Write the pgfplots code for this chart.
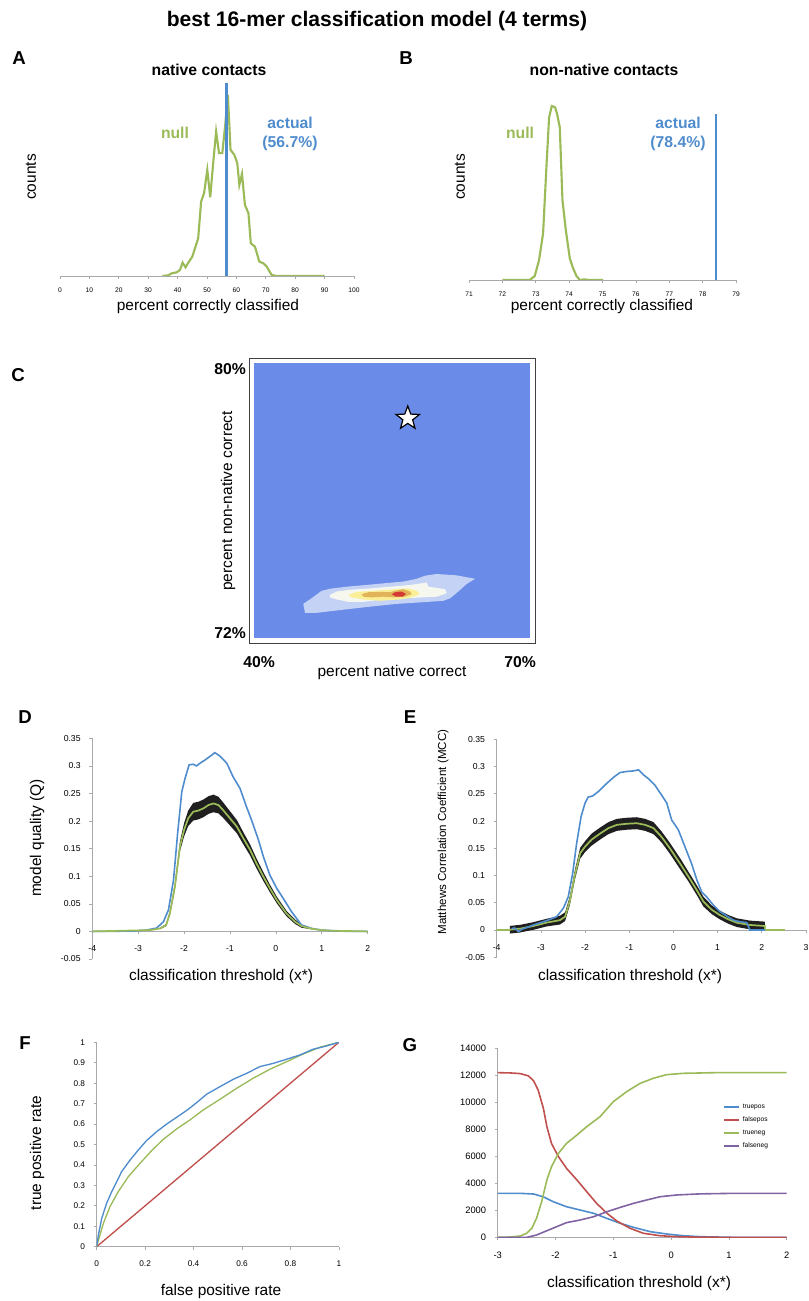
\documentclass[border=0pt]{standalone}
\usepackage{fontspec}
\setmainfont{Liberation Sans}
\usepackage{pgfplots}
\pgfplotsset{compat=1.18}

\definecolor{xblue}{RGB}{79,140,205}
\definecolor{xgreen}{RGB}{155,187,89}
\definecolor{xred}{RGB}{192,80,77}
\definecolor{xpurple}{RGB}{128,100,162}
\definecolor{cbg}{RGB}{106,140,232}
\definecolor{cl1}{RGB}{196,210,245}
\definecolor{cl2}{RGB}{246,248,240}
\definecolor{cl3}{RGB}{250,238,150}
\definecolor{cl4}{RGB}{226,180,90}
\definecolor{cl5}{RGB}{212,58,52}
\definecolor{axgray}{RGB}{170,170,170}

% five-pointed star mark for panel C
\pgfdeclareplotmark{fstar}{%
  \pgfpathmoveto{\pgfpointpolar{90}{\pgfplotmarksize}}%
  \pgfpathlineto{\pgfpointpolar{126}{0.42\pgfplotmarksize}}%
  \pgfpathlineto{\pgfpointpolar{162}{\pgfplotmarksize}}%
  \pgfpathlineto{\pgfpointpolar{198}{0.42\pgfplotmarksize}}%
  \pgfpathlineto{\pgfpointpolar{234}{\pgfplotmarksize}}%
  \pgfpathlineto{\pgfpointpolar{270}{0.42\pgfplotmarksize}}%
  \pgfpathlineto{\pgfpointpolar{306}{\pgfplotmarksize}}%
  \pgfpathlineto{\pgfpointpolar{342}{0.42\pgfplotmarksize}}%
  \pgfpathlineto{\pgfpointpolar{18}{\pgfplotmarksize}}%
  \pgfpathlineto{\pgfpointpolar{54}{0.42\pgfplotmarksize}}%
  \pgfpathclose
  \pgfusepathqfillstroke}

\pgfplotsset{
  base/.style={scale only axis, anchor=south west,
    axis line style={axgray, line width=0.6pt},
    tick style={axgray, line width=0.5pt},
    major tick length=2.2pt, tick align=outside,
    /pgf/number format/assume math mode=true,
    /pgf/number format/fixed,
    /pgf/number format/1000 sep={},
    scaled ticks=false,
    ticklabel style={font=\fontsize{6.5}{7}\selectfont, text=black}},
}

\begin{document}
\begin{tikzpicture}
\path[use as bounding box] (0,0) rectangle (606.75pt,-975.75pt);

% ---------------- A ----------------
\begin{axis}[base, at={(45pt,-207pt)}, width=220.5pt, height=150.2pt,
  xmin=0, xmax=100, ymin=0, ymax=600,
  axis x line*=bottom, axis y line=none,
  xtick={0,10,20,30,40,50,60,70,80,90,100},
  ticklabel style={font=\fontsize{5}{6}\selectfont},
  xticklabel style={yshift=-3pt}]
\addplot[xgreen, line width=1.6pt] coordinates {
 (34.8,0)(36.8,2)(38,8)(39.7,11)(40.8,18)(41.7,40)(42.7,26)(43.5,38)(45,58)
 (47,113)(48,223)(49,248)(50.1,318)(51.1,236)(52.2,348)(53.1,433)(54.1,368)
 (55.2,368)(56.2,453)(57.1,543)(58,378)(59.3,363)(60.3,338)(61,273)(61.9,306)
 (62.9,213)(64.1,188)(64.9,98)(66.3,88)(67.8,43)(69.2,38)(70.3,28)(72,3)
 (73.7,0)(90,0)};
\addplot[xblue, line width=1.9pt] coordinates {(56.7,0)(56.7,578)};
\end{axis}

% ---------------- B ----------------
\begin{axis}[base, at={(351.75pt,-210pt)}, width=200.25pt, height=150pt,
  xmin=71, xmax=79, ymin=0, ymax=600,
  axis x line*=bottom, axis y line=none,
  xtick={71,...,79},
  ticklabel style={font=\fontsize{5}{6}\selectfont},
  xticklabel style={yshift=-3pt}]
\addplot[xgreen, line width=1.6pt] coordinates {
 (72,0)(72.82,0)(72.97,12)(73.1,60)(73.22,140)(73.32,340)(73.4,488)(73.48,522)
 (73.58,518)(73.64,498)(73.72,458)(73.8,240)(73.9,150)(74.02,65)(74.12,35)
 (74.22,12)(74.32,0)(74.47,2)(74.57,0)(75.02,0)};
\addplot[xblue, line width=1.9pt] coordinates {(78.4,0)(78.4,498)};
\end{axis}

% ---------------- C ----------------
\begin{axis}[base, at={(190.7pt,-478.7pt)}, width=206.8pt, height=206.25pt,
  xmin=40, xmax=70, ymin=72, ymax=80,
  axis background/.style={fill=cbg},
  axis line style={draw=none}, xtick=\empty, ytick=\empty]
\addplot[fill=cl1, draw=none] coordinates {
 (45.33,73.0)(46.06,73.13)(47.33,73.38)(48.24,73.44)(50.05,73.50)(52.95,73.57)
 (56.21,73.65)(57.67,73.73)(58.57,73.82)(59.85,73.87)(62.02,73.83)(64.02,73.73)
 (63.11,73.58)(62.2,73.36)(61.29,73.16)(60.57,73.09)(58.39,73.05)(55.5,73.0)
 (52.59,72.92)(49.33,72.82)(46.79,72.74)(45.52,72.74)} -- cycle;
\addplot[fill=cl2, draw=none] coordinates {
 (48.24,73.26)(48.97,73.36)(50.41,73.41)(52.59,73.45)(54.76,73.50)(56.94,73.55)
 (58.76,73.62)(58.93,73.50)(60.75,73.43)(60.94,73.31)(59.85,73.21)(58.39,73.19)
 (56.21,73.16)(54.04,73.13)(51.86,73.06)(50.23,73.06)(48.97,73.13)(48.24,73.19)} -- cycle;
\addplot[fill=cl3, draw=none] coordinates {
 (50.23,73.26)(51.14,73.35)(52.95,73.38)(54.41,73.41)(55.5,73.43)(56.76,73.45)
 (57.67,73.38)(58.03,73.29)(57.13,73.19)(55.85,73.13)(53.67,73.09)(51.86,73.13)
 (50.6,73.19)} -- cycle;
\addplot[fill=cl4, draw=none] coordinates {
 (51.69,73.28)(52.4,73.34)(53.68,73.35)(54.77,73.34)(55.31,73.38)(56.21,73.43)
 (56.94,73.36)(57.13,73.28)(56.4,73.21)(55.13,73.19)(54.04,73.21)(52.77,73.19)
 (51.86,73.21)} -- cycle;
\addplot[fill=cl5, draw=none] coordinates {
 (54.95,73.28)(55.31,73.34)(56.04,73.36)(56.51,73.29)(56.15,73.21)(55.42,73.21)} -- cycle;
\addplot[only marks, mark=fstar, mark size=9.2pt,
  mark options={fill=white, draw=black, line width=0.9pt}] coordinates {(56.7,78.4)};
\end{axis}

% ---------------- D ----------------
\begin{axis}[base, at={(69.2pt,-719.25pt)}, width=206.55pt, height=165.5pt,
  xmin=-4, xmax=2, ymin=-0.05, ymax=0.35,
  axis x line*=middle, axis y line*=left,
  hide obscured x ticks=false, hide obscured y ticks=false,
  xtick={-4,-3,-2,-1,0,1,2},
  ytick={-0.05,0,0.05,0.1,0.15,0.2,0.25,0.3,0.35},
  xticklabel style={yshift=-5pt}, yticklabel style={xshift=-3pt}]
% spread of the null models (upper edge, then lower edge back)
\addplot[fill=black!88, draw=none] coordinates {
 (-2.52,0.0064)(-2.39,0.0135)(-2.31,0.0366)(-2.2,0.087)(-2.09,0.163)(-2.0,0.196)
 (-1.91,0.219)(-1.8,0.233)(-1.69,0.235)(-1.58,0.239)(-1.47,0.245)(-1.36,0.248)
 (-1.25,0.244)(-1.15,0.234)(-1.0,0.218)(-0.85,0.202)(-0.71,0.180)(-0.56,0.1575)
 (-0.42,0.132)(-0.27,0.107)(-0.13,0.085)(0.02,0.063)(0.23,0.0376)(0.42,0.0215)
 (0.56,0.0127)(0.78,0.0058)
 (0.78,0.0038)(0.56,0.0067)(0.42,0.0135)(0.23,0.0276)(0.02,0.051)(-0.13,0.071)
 (-0.27,0.091)(-0.42,0.114)(-0.56,0.1375)(-0.71,0.158)(-0.85,0.178)(-1.0,0.192)
 (-1.15,0.206)(-1.25,0.214)(-1.36,0.216)(-1.47,0.213)(-1.58,0.207)(-1.69,0.203)
 (-1.8,0.201)(-1.91,0.191)(-2.0,0.172)(-2.09,0.145)(-2.2,0.075)(-2.31,0.0286)
 (-2.39,0.0095)(-2.52,0.0044)} -- cycle;
\addplot[xblue, line width=1.2pt] coordinates {
 (-4,0)(-3.11,0.0006)(-2.82,0.0024)(-2.6,0.006)(-2.45,0.0175)(-2.34,0.039)
 (-2.23,0.093)(-2.14,0.178)(-2.05,0.253)(-1.98,0.277)(-1.89,0.302)(-1.8,0.303)
 (-1.73,0.300)(-1.65,0.305)(-1.54,0.311)(-1.44,0.317)(-1.33,0.324)(-1.22,0.318)
 (-1.07,0.305)(-0.93,0.280)(-0.78,0.259)(-0.64,0.226)(-0.53,0.202)(-0.38,0.166)
 (-0.27,0.135)(-0.13,0.102)(0.02,0.078)(0.16,0.060)(0.34,0.036)(0.56,0.0115)
 (0.78,0.0054)(1.0,0.0024)(1.25,0.0012)(1.61,0)(2,0)};
\addplot[xgreen, line width=1.3pt] coordinates {
 (-4,0)(-2.74,0.0024)(-2.52,0.0054)(-2.39,0.0115)(-2.31,0.0326)(-2.2,0.081)
 (-2.09,0.154)(-2.0,0.184)(-1.91,0.205)(-1.8,0.217)(-1.69,0.219)(-1.58,0.223)
 (-1.47,0.229)(-1.36,0.232)(-1.25,0.229)(-1.15,0.220)(-1.0,0.205)(-0.85,0.190)
 (-0.71,0.169)(-0.56,0.1475)(-0.42,0.123)(-0.27,0.099)(-0.13,0.078)(0.02,0.057)
 (0.23,0.0326)(0.42,0.0175)(0.56,0.0097)(0.78,0.0048)(1.0,0.0024)(1.25,0.0012)(2,0)};
\end{axis}

% ---------------- E ----------------
\begin{axis}[base, at={(372.5pt,-717.9pt)}, width=231.98pt, height=163.4pt,
  xmin=-4, xmax=3, ymin=-0.05, ymax=0.35,
  axis x line*=middle, axis y line*=left,
  hide obscured x ticks=false, hide obscured y ticks=false,
  xtick={-4,-3,-2,-1,0,1,2,3},
  ytick={-0.05,0,0.05,0.1,0.15,0.2,0.25,0.3,0.35},
  xticklabel style={yshift=-5pt}, yticklabel style={xshift=-3pt}]
\addplot[fill=black!88, draw=none] coordinates {
 (-3.7,0.0075)(-3.47,0.0094)(-3.17,0.0143)(-2.87,0.0205)(-2.57,0.026)(-2.45,0.0325)
 (-2.34,0.063)(-2.23,0.110)(-2.11,0.151)(-2.0,0.163)(-1.85,0.177)(-1.66,0.188)
 (-1.47,0.198)(-1.28,0.204)(-1.06,0.206)(-0.83,0.207)(-0.64,0.204)(-0.45,0.198)
 (-0.27,0.181)(-0.08,0.160)(0.15,0.132)(0.34,0.107)(0.53,0.082)(0.68,0.061)
 (0.87,0.045)(1.05,0.0355)(1.24,0.0276)(1.43,0.0215)(1.73,0.0172)(2.07,0.0153)
 (2.07,-0.0007)(1.73,0.0012)(1.43,0.0055)(1.24,0.0116)(1.05,0.0195)(0.87,0.029)
 (0.68,0.043)(0.53,0.064)(0.34,0.089)(0.15,0.112)(-0.08,0.140)(-0.27,0.161)
 (-0.45,0.176)(-0.64,0.182)(-0.83,0.185)(-1.06,0.184)(-1.28,0.182)(-1.47,0.176)
 (-1.66,0.166)(-1.85,0.155)(-2.0,0.143)(-2.11,0.131)(-2.23,0.092)(-2.34,0.047)
 (-2.45,0.0165)(-2.57,0.010)(-2.87,0.0065)(-3.17,0.0003)(-3.47,-0.0046)(-3.7,-0.0065)} -- cycle;
\addplot[xgreen, line width=1.3pt] coordinates {
 (-4,0)(-3.71,0)(-3.7,0.0005)(-3.47,0.0024)(-3.17,0.0073)(-2.87,0.0135)(-2.57,0.018)
 (-2.45,0.0245)(-2.34,0.055)(-2.23,0.101)(-2.11,0.141)(-2.0,0.153)(-1.85,0.166)
 (-1.66,0.177)(-1.47,0.187)(-1.28,0.193)(-1.06,0.195)(-0.83,0.196)(-0.64,0.193)
 (-0.45,0.187)(-0.27,0.171)(-0.08,0.150)(0.15,0.122)(0.34,0.098)(0.53,0.073)
 (0.68,0.052)(0.87,0.037)(1.05,0.0275)(1.24,0.0196)(1.43,0.0135)(1.73,0.0092)
 (2.07,0.0073)(2.075,0)(2.52,0)};
\addplot[xblue, line width=1.2pt] coordinates {
 (-3.66,0.0024)(-3.59,0.0037)(-3.51,-0.003)(-3.43,0.0012)(-3.17,0.0092)
 (-2.87,0.017)(-2.64,0.0245)(-2.49,0.040)(-2.38,0.061)(-2.28,0.104)(-2.19,0.159)
 (-2.09,0.208)(-2.0,0.233)(-1.93,0.244)(-1.83,0.246)(-1.70,0.254)(-1.55,0.266)
 (-1.36,0.280)(-1.21,0.289)(-1.06,0.291)(-0.91,0.292)(-0.79,0.294)(-0.68,0.285)
 (-0.57,0.278)(-0.42,0.266)(-0.27,0.248)(-0.15,0.233)(-0.04,0.202)(0.11,0.184)
 (0.26,0.153)(0.41,0.122)(0.53,0.092)(0.64,0.070)(0.75,0.061)(0.90,0.046)
 (1.05,0.034)(1.2,0.026)(1.36,0.018)(1.51,0.015)(1.66,0.0135)(1.73,0)(2.07,0)};
\end{axis}

% ---------------- F ----------------
\begin{axis}[base, at={(72.5pt,-935pt)}, width=181.7pt, height=153.3pt,
  xmin=0, xmax=1, ymin=0, ymax=1,
  axis x line*=bottom, axis y line*=left,
  xtick={0,0.2,0.4,0.6,0.8,1},
  ytick={0,0.1,0.2,0.3,0.4,0.5,0.6,0.7,0.8,0.9,1},
  ticklabel style={font=\fontsize{6.2}{7}\selectfont},
  xticklabel style={yshift=-5pt}, yticklabel style={xshift=-3pt}]
\addplot[xred, line width=1pt] coordinates {(0,0)(1,1)};
\addplot[xgreen, line width=1pt] coordinates {
 (0,0)(0.0096,0.041)(0.0275,0.114)(0.055,0.196)(0.089,0.269)(0.131,0.343)
 (0.179,0.408)(0.227,0.470)(0.275,0.525)(0.330,0.576)(0.385,0.620)(0.440,0.669)
 (0.509,0.721)(0.578,0.775)(0.646,0.824)(0.715,0.868)(0.784,0.905)(0.853,0.943)
 (0.922,0.976)(1,1)};
\addplot[xblue, line width=1pt] coordinates {
 (0,0)(0.007,0.057)(0.021,0.139)(0.041,0.212)(0.062,0.269)(0.083,0.318)
 (0.103,0.367)(0.138,0.424)(0.172,0.473)(0.206,0.519)(0.248,0.563)(0.289,0.600)
 (0.330,0.633)(0.371,0.666)(0.413,0.705)(0.454,0.746)(0.509,0.783)(0.564,0.819)
 (0.619,0.848)(0.674,0.881)(0.729,0.897)(0.784,0.917)(0.839,0.938)(0.894,0.966)
 (0.949,0.982)(1,1)};
\end{axis}

% ---------------- G ----------------
\begin{axis}[base, at={(373.3pt,-928pt)}, width=216.75pt, height=141.75pt,
  xmin=-3, xmax=2, ymin=0, ymax=14000,
  axis x line*=bottom, axis y line*=left,
  xtick={-3,-2,-1,0,1,2},
  ytick={0,2000,4000,6000,8000,10000,12000,14000},
  ticklabel style={font=\fontsize{7}{8}\selectfont},
  xticklabel style={yshift=-5pt}, yticklabel style={xshift=-3pt},
  legend style={at={(0.78,0.72)}, anchor=north west, draw=none, fill=none,
    font=\fontsize{5}{6}\selectfont, row sep=0.8pt, inner sep=0pt},
  legend cell align=left,
  legend image code/.code={\draw[line width=1.5pt, #1] (0pt,0pt) -- (11pt,0pt);}]
\addplot[xblue, line width=1.2pt] coordinates {
 (-3,3260)(-2.61,3260)(-2.38,3210)(-2.21,3000)(-2.04,2640)(-1.81,2270)(-1.58,2030)
 (-1.34,1780)(-1.11,1400)(-0.88,1040)(-0.65,740)(-0.36,420)(-0.08,250)(0.21,120)
 (0.5,50)(1.08,0)(2,0)};
\addplot[xred, line width=1.2pt] coordinates {
 (-3,12200)(-2.79,12180)(-2.61,12130)(-2.47,11960)(-2.38,11600)(-2.30,10900)
 (-2.21,9550)(-2.15,8200)(-2.07,6960)(-1.95,5980)(-1.81,5110)(-1.63,4250)
 (-1.46,3380)(-1.29,2520)(-1.11,1780)(-0.94,1210)(-0.71,670)(-0.48,300)
 (-0.19,120)(0.10,50)(0.5,10)(1,0)(2,0)};
\addplot[xgreen, line width=1.2pt] coordinates {
 (-3,0)(-2.79,25)(-2.61,100)(-2.5,300)(-2.41,670)(-2.33,1400)(-2.24,2640)
 (-2.15,4250)(-2.07,5230)(-1.95,6220)(-1.81,6960)(-1.63,7580)(-1.46,8200)
 (-1.23,8940)(-1.0,10050)(-0.77,10790)(-0.54,11400)(-0.31,11780)(-0.08,12050)
 (0.21,12150)(0.79,12200)(2,12200)};
\addplot[xpurple, line width=1.2pt] coordinates {
 (-3,0)(-2.5,0)(-2.33,170)(-2.15,490)(-1.98,790)(-1.81,1090)(-1.58,1280)
 (-1.34,1530)(-1.11,1900)(-0.88,2220)(-0.65,2520)(-0.42,2770)(-0.19,3010)
 (0.10,3140)(0.5,3220)(1.08,3260)(2,3260)};
\legend{truepos, falsepos, trueneg, falseneg}
\end{axis}

% ---------------- texts (pixel grid, y downwards) ----------------
\begin{scope}[x=0.75pt, y=-0.75pt]
\newcommand\lab{\fontsize{11.6}{13}\selectfont}
\newcommand\ttl{\bfseries\fontsize{11.8}{13}\selectfont}
\newcommand\pl{\bfseries\fontsize{14}{16}\selectfont}
\node[font=\bfseries\fontsize{15.8}{18}\selectfont] at (377,21) {best 16-mer classification model (4 terms)};
\node[font=\pl] at (19,58) {A};
\node[font=\pl] at (406,58) {B};
\node[font=\pl] at (18,375) {C};
\node[font=\pl] at (25,717) {D};
\node[font=\pl] at (410,717) {E};
\node[font=\pl] at (25,1043) {F};
\node[font=\pl] at (410,1045) {G};
% A, B
\node[font=\ttl] at (209,70) {native contacts};
\node[font=\ttl] at (604,70) {non-native contacts};
\node[font=\ttl, text=xgreen] at (175,133) {null};
\node[font=\ttl, text=xgreen] at (520,133) {null};
\node[font=\ttl, text=xblue] at (290,123) {actual};
\node[font=\ttl, text=xblue] at (290,143) {(56.7\%)};
\node[font=\ttl, text=xblue] at (678,123) {actual};
\node[font=\ttl, text=xblue] at (678,143) {(78.4\%)};
\node[font=\lab, rotate=90] at (31,177) {counts};
\node[font=\lab, rotate=90] at (460,177) {counts};
\node[font=\lab] at (208,307) {percent correctly classified};
\node[font=\lab] at (602,307) {percent correctly classified};
% C
\draw[black!75, line width=0.9pt] (249.3,358.3) rectangle (535.3,643.3);
\node[font=\ttl] at (230,369) {80\%};
\node[font=\ttl] at (230,633) {72\%};
\node[font=\ttl] at (259,662) {40\%};
\node[font=\ttl] at (520,662) {70\%};
\node[font=\lab] at (392,672) {percent native correct};
\node[font=\lab, rotate=90] at (228,501) {percent non-native correct};
% D, E
\node[font=\lab, rotate=90] at (37,838) {model quality (Q)};
\node[font=\lab] at (221,976) {classification threshold (x*)};
\node[font=\fontsize{8.7}{10}\selectfont, rotate=90] at (443,832) {Matthews Correlation Coefficient (MCC)};
\node[font=\lab] at (630,976) {classification threshold (x*)};
% F, G
\node[font=\lab, rotate=90] at (37,1153) {true positive rate};
\node[font=\lab] at (221,1291) {false positive rate};
\node[font=\lab] at (639,1283) {classification threshold (x*)};
\end{scope}
\end{tikzpicture}
\end{document}
